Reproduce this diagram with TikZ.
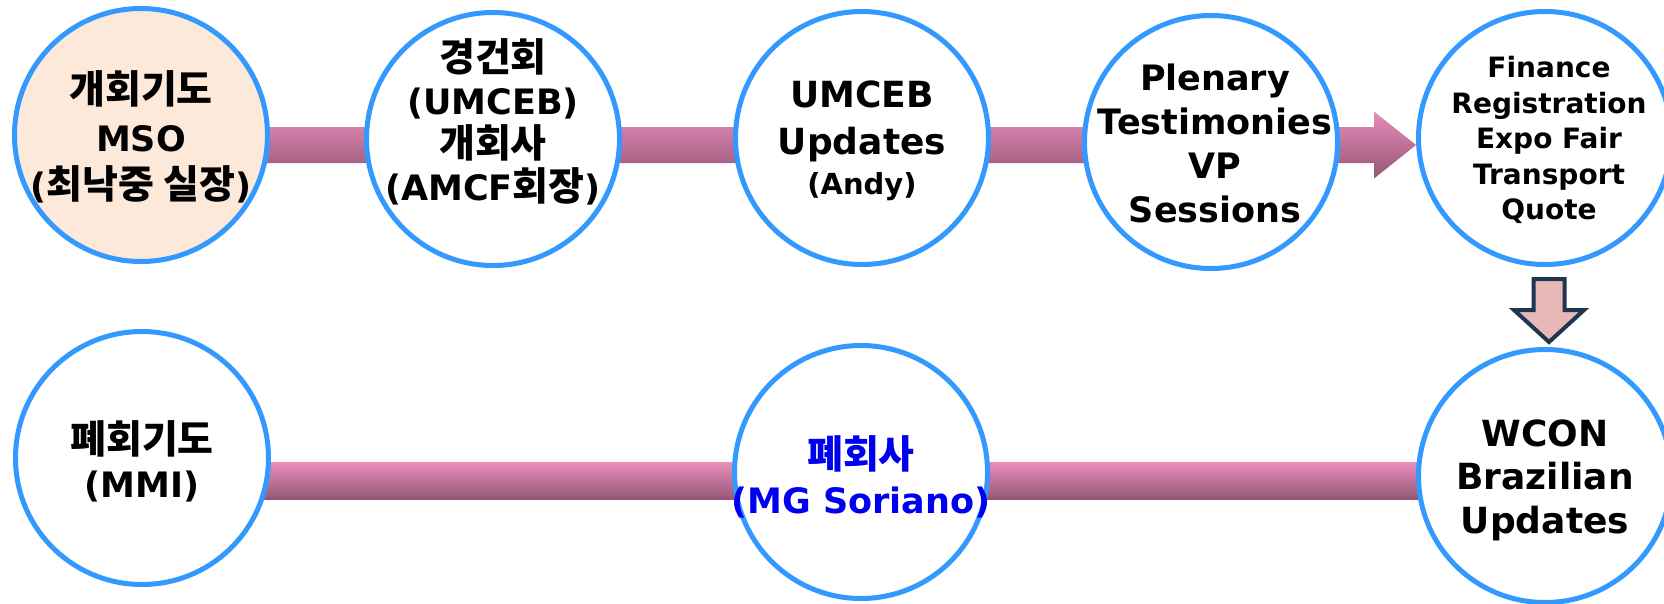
\documentclass[tikz,border=0pt]{standalone}
\usepackage{fontspec}
\setmainfont{DejaVu Sans}
\newfontfamily\kr{Noto Sans CJK KR}
\usetikzlibrary{calc,backgrounds}
\definecolor{ringblue}{HTML}{3399FF}
\definecolor{peach}{HTML}{FDE9D9}
\definecolor{bartop}{HTML}{E88DBB}
\definecolor{barbot}{HTML}{935674}
\definecolor{downfill}{HTML}{E6B9B8}
\definecolor{downline}{HTML}{1F3550}
\definecolor{txtblue}{HTML}{0000F0}
\newcommand\K[1]{{\kr\bfseries\fontsize{39pt}{44pt}\selectfont #1}}
\begin{document}
\begin{tikzpicture}[x=1pt,y=1pt,
  ring/.style={circle,draw=ringblue,line width=5pt,fill=white,minimum size=253pt,inner sep=0pt},
  txt/.style={align=center,inner sep=0pt},
  bar/.style={top color=bartop,bottom color=barbot,draw=none},
  downarrow/.style={fill=downfill,draw=downline,line width=4pt,line join=miter}]
\useasboundingbox (0,0) rectangle (1664,-603);
% circles
\node[ring,fill=peach] (c1) at (141,-135) {};
\node[ring] (c2) at (493,-139) {};
\node[ring] (c3) at (862,-138) {};
\node[ring] (c4) at (1211,-142) {};
\node[ring] (c5) at (1545,-138) {};
\node[ring] (d1) at (142,-458) {};
\node[ring] (d2) at (861,-472) {};
\node[ring] (d3) at (1545,-476) {};
% texts
\node[txt,font=\bfseries\fontsize{35pt}{47.5pt}\selectfont] (t1) at ([yshift=-2pt]c1.center)
  {\K{개회기도}\\MSO\\(\K{최낙중 실장})};
\node[txt,font=\bfseries\fontsize{35pt}{43pt}\selectfont] (t2) at ([yshift=17pt]c2.center)
  {\K{경건회}\\(UMCEB)\\\K{개회사}\\(AMCF\K{회장})};
\node[txt,font=\bfseries\fontsize{36pt}{47pt}\selectfont] (t3) at ([yshift=-3pt]c3.center)
  {UMCEB\\Updates\\[-7pt]{\fontsize{29pt}{40pt}\selectfont (Andy)}};
\node[txt,font=\bfseries\fontsize{35pt}{44pt}\selectfont] (t4) at ([xshift=4pt,yshift=-1pt]c4.center)
  {Plenary\\Testimonies\\VP\\Sessions};
\node[txt,font=\bfseries\fontsize{28pt}{35.5pt}\selectfont] (t5) at ([xshift=4pt,yshift=-2pt]c5.center)
  {Finance\\Registration\\Expo Fair\\Transport\\Quote};
\node[txt,font=\bfseries\fontsize{35pt}{44pt}\selectfont] (s1) at ([yshift=-3pt]d1.center)
  {\K{폐회기도}\\(MMI)};
\node[txt,text=txtblue,font=\bfseries\fontsize{35pt}{45pt}\selectfont] (s2) at ([yshift=-5pt]d2.center)
  {\K{폐회사}\\(MG Soriano)};
\node[txt,font=\bfseries\fontsize{36pt}{43.5pt}\selectfont] (s3) at ([yshift=-4pt]d3.center)
  {WCON\\Brazilian\\Updates};
% bars behind circles
\begin{scope}[on background layer]
\fill[white] (0,0) rectangle (1664,-603);
\coordinate (ta) at ([yshift=-10pt]c1.center);
\coordinate (tb) at (c5.west |- ta);
\shade[bar] ($(ta)+(0,18)$) -- ($(tb)+(-42,18)$) -- ($(tb)+(-42,33.5)$) -- (tb)
  -- ($(tb)+(-42,-33.5)$) -- ($(tb)+(-42,-18)$) -- ($(ta)+(0,-18)$) -- cycle;
\coordinate (ba) at ([yshift=-23pt]d1.center);
\coordinate (bb) at (d3.center |- ba);
\shade[bar] ($(ba)+(0,18.5)$) rectangle ($(bb)+(0,-18.5)$);
\end{scope}
% down arrow
\coordinate (da) at ([xshift=4pt,yshift=-12pt]c5.south);
\coordinate (db) at ([xshift=4pt,yshift=5pt]d3.north);
\draw[downarrow] ($(da)+(-15.5,0)$) -- ($(da)+(15.5,0)$) -- ($(db)+(15.5,32)$) -- ($(db)+(35,32)$)
  -- (db) -- ($(db)+(-35,32)$) -- ($(db)+(-15.5,32)$) -- cycle;
\end{tikzpicture}
\end{document}
